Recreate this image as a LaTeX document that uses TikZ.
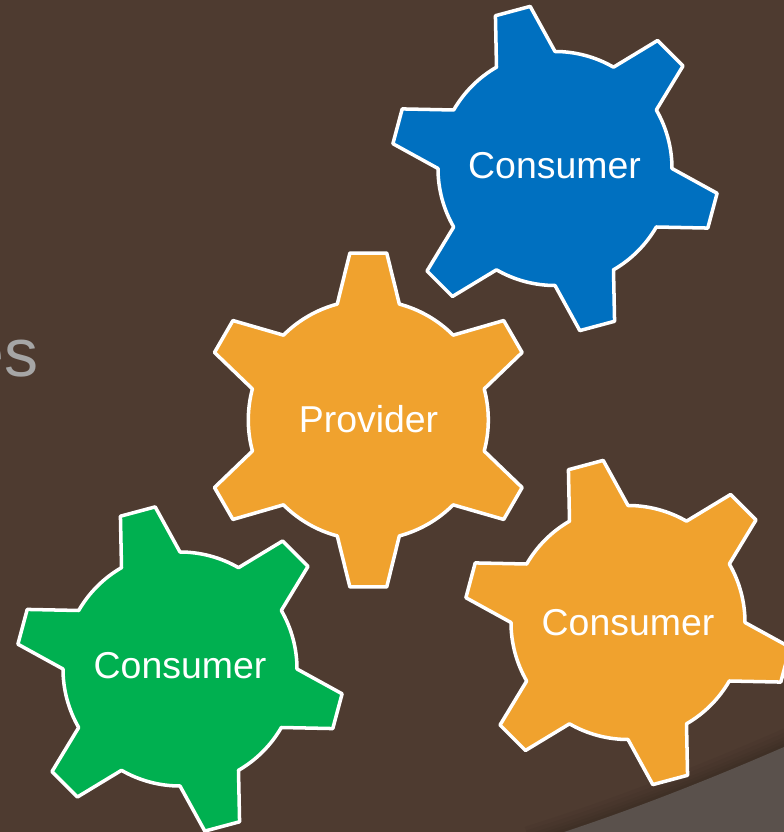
\documentclass[tikz,border=0pt]{standalone}
\usepackage{fontspec}
\setmainfont{Liberation Sans}
\definecolor{bgbrown}{HTML}{4E3B30}
\definecolor{cornergray}{HTML}{5A514C}
\definecolor{gearorange}{HTML}{F0A22E}
\definecolor{gearblue}{HTML}{0070C0}
\definecolor{geargreen}{HTML}{00B050}
\tikzset{
    gear/.style={draw=white,line width=2pt,line join=round},
    gearlabel/.style={text=white,font=\fontsize{21.3pt}{24pt}\selectfont,inner sep=0pt},
}
% #1 centre, #2 root radius, #3 tip radius, #4 turn, #5 colour
\newcommand{\gearat}[5]{%
    \filldraw[gear,fill=#5,shift={(#1)}] (#4-15:#2)
        \foreach \a in {0,60,...,300} {
            -- (#4+\a-15:#2)
            -- (#4+\a-6.3:#3)
            -- (#4+\a+6.3:#3)
            -- (#4+\a+15:#2)
            arc[start angle=#4+\a+15,end angle=#4+\a+45,radius=#2]
        } -- cycle;
}
\begin{document}
\begin{tikzpicture}[x=0.02cm,y=0.02cm]
    \useasboundingbox (0,0) rectangle (784,832);
    \clip (0,0) rectangle (784,832);
    \fill[bgbrown] (0,0) rectangle (784,832);

    % corner of the slide
    \foreach \w in {34,26,18,12,6}
        \draw[black,opacity=0.035,line width=\w*0.02cm] (530,-11) -- (564,0) .. controls (640,25) and (715,55) .. (784,85) -- (810,97);
    \fill[cornergray] (564,0) .. controls (640,25) and (715,55) .. (784,85) -- (784,0) -- cycle;

    % rest of the title
    \node[anchor=base east,text=black!35,font=\fontsize{38.7pt}{44pt}\selectfont,inner sep=0pt] (title) at (39,455.5) {es};

    \gearat{368.3,412}{120}{168}{90}{gearorange}
    \gearat{555,663.5}{117}{164}{105}{gearblue}
    \gearat{628,209.5}{117}{164}{105}{gearorange}
    \gearat{180,163}{117}{164}{105}{geargreen}

    \node[gearlabel] (provider) at (368.5,413) {Provider};
    \node[gearlabel] (blueconsumer) at (554.5,666) {Consumer};
    \node[gearlabel] (orangeconsumer) at (628,209) {Consumer};
    \node[gearlabel] (greenconsumer) at (180,166) {Consumer};
\end{tikzpicture}
\end{document}
